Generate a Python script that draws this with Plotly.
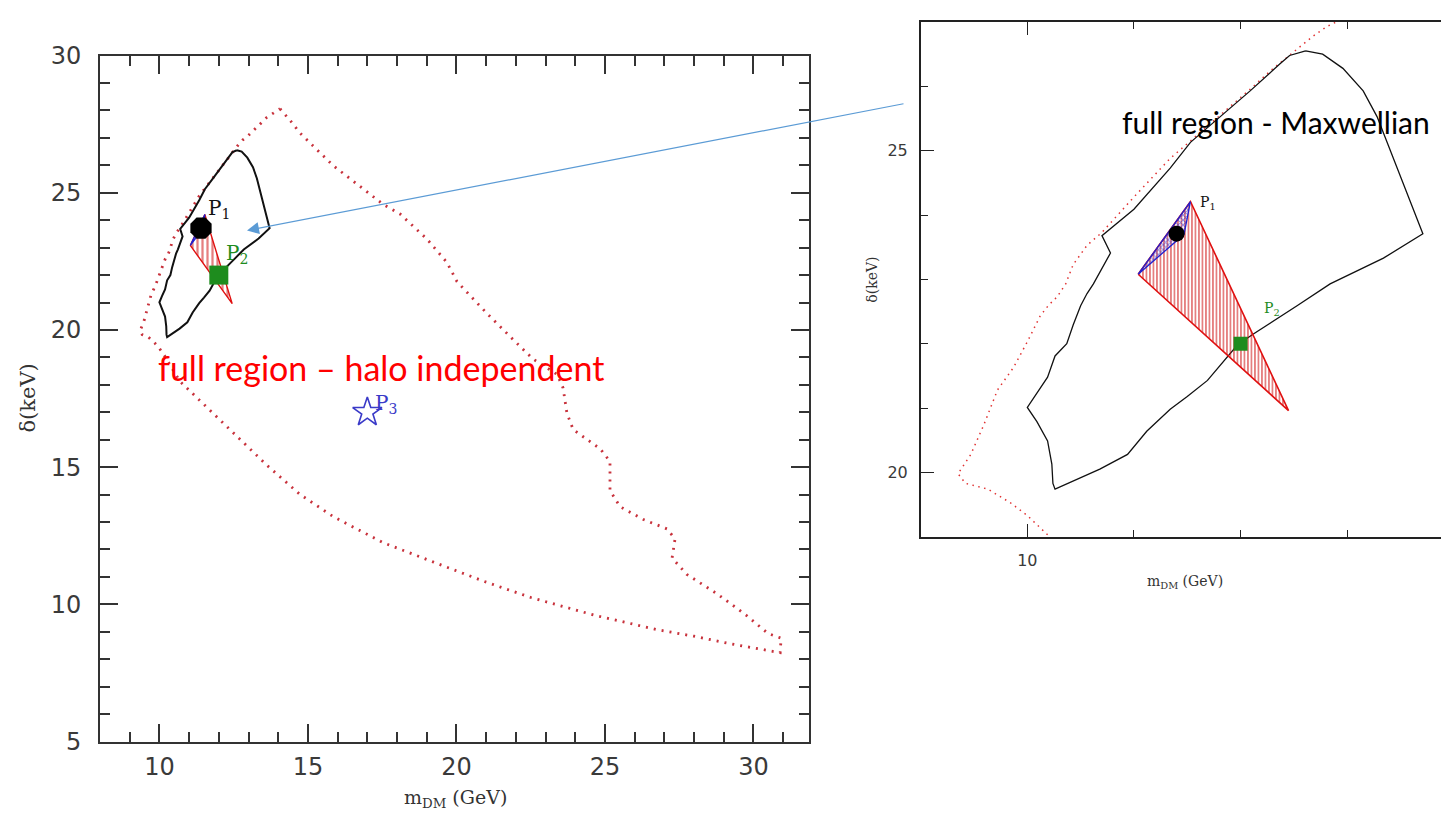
import plotly.graph_objects as go

# ---------------- data ----------------
# halo-independent region (red dotted contour), m_DM [GeV], delta [keV]
red_x = [14.06, 14.40, 14.73, 15.85, 17.53, 18.10, 19.01, 19.68, 20.02, 21.03,
         21.91, 22.58, 23.39, 23.59, 23.72, 23.93, 24.84, 25.17, 25.17, 25.51,
         26.28, 27.09, 27.36, 27.26, 27.76, 28.77, 29.75, 30.49, 30.93, 30.90,
         29.25, 28.00, 26.75, 24.63, 22.51, 20.90, 19.21, 17.53, 15.85, 14.73,
         13.62, 12.48, 11.37, 10.69, 10.19, 10.00, 9.84, 9.63, 9.42, 9.35,
         9.47, 9.59, 9.72, 9.87, 10.00, 10.12, 10.20, 10.28, 10.36, 10.43,
         10.56, 10.70, 11.00, 11.34, 11.55, 11.83, 12.10, 12.30, 12.49, 12.68,
         12.81, 12.96, 13.62, 14.06]
red_y = [28.06, 27.64, 27.18, 25.99, 24.58, 24.23, 23.31, 22.46, 21.76, 20.60,
         19.65, 18.94, 18.38, 17.89, 16.97, 16.37, 15.67, 15.21, 14.15, 13.56,
         13.10, 12.75, 12.39, 11.69, 11.09, 10.39, 9.61, 8.94, 8.77, 8.24,
         8.56, 8.84, 9.08, 9.61, 10.25, 10.85, 11.55, 12.25, 13.20, 14.01,
         15.07, 16.27, 17.43, 18.13, 19.03, 19.33, 19.53, 19.74, 19.83, 19.98,
         20.28, 20.73, 21.28, 21.63, 22.03, 22.43, 22.60, 22.73, 22.93, 23.23,
         23.53, 23.73, 24.28, 24.88, 25.18, 25.58, 25.97, 26.27, 26.53, 26.78,
         26.93, 27.05, 27.75, 28.06]

# Maxwellian region (black solid contour)
black_x = [12.61, 12.77, 12.96, 13.15, 13.28, 13.47, 13.71, 13.34, 12.84, 12.53,
           12.28, 12.12, 11.97, 11.84, 11.69, 11.50, 11.34, 11.12, 10.94, 10.68,
           10.43, 10.26, 10.24, 10.23, 10.19, 10.09, 10.00, 10.09, 10.19, 10.26,
           10.37, 10.43, 10.50, 10.56, 10.62, 10.78, 10.70, 11.00, 11.34, 11.53,
           11.81, 12.09, 12.37, 12.46, 12.61]
black_y = [26.55, 26.50, 26.28, 25.93, 25.53, 24.73, 23.71, 23.33, 22.93, 22.59,
           22.33, 22.15, 21.98, 21.73, 21.43, 21.18, 20.98, 20.64, 20.28, 20.05,
           19.86, 19.74, 19.83, 20.13, 20.49, 20.79, 21.01, 21.24, 21.48, 21.81,
           22.00, 22.29, 22.59, 22.78, 22.93, 23.41, 23.68, 24.09, 24.73, 25.13,
           25.53, 25.93, 26.35, 26.48, 26.55]

# hatched regions
red_tri_x = [11.04, 11.53, 12.45, 11.04]
red_tri_y = [23.08, 24.21, 20.96, 23.08]
blue_tri_x = [11.04, 11.53, 11.47, 11.04]
blue_tri_y = [23.08, 24.21, 23.70, 23.08]

# benchmark points
p_names = ["P1", "P2", "P3"]
p_x = [11.40, 12.00, 17.00]
p_y = [23.71, 22.00, 17.00]

# ---------------- figure ----------------
W, H = 1441, 830
fig = go.Figure()


def add_panel(xa, ya, big):
    lw_red = 2.8 if big else 1.5
    lw_blk = 2.0 if big else 1.3
    fig.add_trace(go.Scatter(
        x=red_x, y=red_y, mode="lines", xaxis=xa, yaxis=ya, hoverinfo="skip",
        line=dict(color="#c8323c" if big else "#e03232", width=lw_red,
                  dash="2px,6px" if big else "1.5px,4.5px")))
    fig.add_trace(go.Scatter(
        x=black_x, y=black_y, mode="lines", xaxis=xa, yaxis=ya, hoverinfo="skip",
        line=dict(color="#111111", width=lw_blk)))
    fig.add_trace(go.Scatter(
        x=red_tri_x, y=red_tri_y, mode="lines", fill="toself", xaxis=xa, yaxis=ya,
        hoverinfo="skip", line=dict(color="#e01010", width=1.4 if big else 1.6),
        fillcolor="rgba(255,255,255,0)",
        fillpattern=dict(shape="|", fgcolor="#cc0000", bgcolor="rgba(255,255,255,0)",
                         size=5 if big else 3.5, solidity=0.45 if big else 0.5)))
    fig.add_trace(go.Scatter(
        x=blue_tri_x, y=blue_tri_y, mode="lines", fill="toself", xaxis=xa, yaxis=ya,
        hoverinfo="skip", line=dict(color="#2020d0", width=1.3),
        fillcolor="rgba(255,255,255,0)",
        fillpattern=dict(shape="x", fgcolor="#2020d0", bgcolor="rgba(255,255,255,0)",
                         size=3.5, solidity=0.5)))
    # P1 black dot
    fig.add_trace(go.Scatter(
        x=[p_x[0]], y=[p_y[0]], mode="markers", xaxis=xa, yaxis=ya, hoverinfo="skip",
        marker=dict(symbol="octagon" if big else "circle", size=23 if big else 16,
                    color="black", line=dict(width=0))))
    # P2 green square
    fig.add_trace(go.Scatter(
        x=[p_x[1]], y=[p_y[1]], mode="markers", xaxis=xa, yaxis=ya, hoverinfo="skip",
        marker=dict(symbol="square", size=19 if big else 14,
                    color="#1e8c1e", line=dict(width=0))))
    if big:
        fig.add_trace(go.Scatter(
            x=[p_x[2]], y=[p_y[2]], mode="markers", xaxis=xa, yaxis=ya, hoverinfo="skip",
            marker=dict(symbol="star-open", size=22, color="#3a3ac8",
                        line=dict(width=1.6, color="#3a3ac8"))))


add_panel("x", "y", True)
add_panel("x2", "y2", False)

tickfont_big = dict(family="DejaVu Sans", size=24, color="#3a3a3a")
tickfont_small = dict(family="DejaVu Sans", size=16, color="#3a3a3a")

ax_common = dict(showline=True, ticks="inside", showgrid=False,
                 zeroline=False, tickmode="linear", tick0=0, dtick=5)

fig.update_layout(
    width=W, height=H, margin=dict(l=0, r=0, t=0, b=0), showlegend=False,
    paper_bgcolor="white", plot_bgcolor="white",
    xaxis=dict(**ax_common, mirror="ticks", domain=[100 / W, 809 / W], range=[8, 31.87],
               anchor="y", linecolor="#333", linewidth=2, ticklen=18, tickwidth=1.6,
               tickcolor="#333",
               minor=dict(ticks="inside", ticklen=10, dtick=1, tick0=0, tickwidth=1.6,
                          tickcolor="#333"),
               tickfont=tickfont_big, ticklabelstandoff=3),
    yaxis=dict(**ax_common, mirror="ticks", domain=[1 - 753 / H, 1 - 43 / H], range=[5, 30],
               anchor="x", linecolor="#333", linewidth=2, ticklen=18, tickwidth=1.6,
               tickcolor="#333",
               minor=dict(ticks="inside", ticklen=10, dtick=1, tick0=0, tickwidth=1.6,
                          tickcolor="#333"),
               tickfont=tickfont_big, ticklabelstandoff=12),
    xaxis2=dict(**ax_common, mirror="ticks", domain=[920.7 / W, 1.0], range=[9, 13.88],
                anchor="y2", linecolor="#222", linewidth=1.5, ticklen=13, tickwidth=1.2,
                tickcolor="#222",
                minor=dict(ticks="inside", ticklen=7, dtick=1, tick0=0, tickwidth=1.2,
                           tickcolor="#222"),
                tickfont=tickfont_small, ticklabelstandoff=8),
    yaxis2=dict(**ax_common, mirror=False, domain=[1 - 541 / H, 1 - 8.3 / H], range=[19, 27],
                anchor="x2", linecolor="#222", linewidth=1.5, ticklen=14, tickwidth=1.2,
                tickcolor="#222",
                minor=dict(ticks="inside", ticklen=8, dtick=1, tick0=0, tickwidth=1.2,
                           tickcolor="#222"),
                tickfont=tickfont_small, ticklabelstandoff=8),
)

serif = "DejaVu Serif"
ann = []
# axis titles
ann.append(dict(text="m<sub>DM</sub> (GeV)", xref="paper", yref="paper", x=455 / W, y=1 - 812 / H,
                showarrow=False, font=dict(family=serif, size=19, color="#333"),
                xanchor="center", yanchor="middle"))
ann.append(dict(text="δ(keV)", xref="paper", yref="paper", x=28 / W, y=1 - 398 / H,
                showarrow=False, textangle=-90, font=dict(family=serif, size=21, color="#333"),
                xanchor="center", yanchor="middle"))
ann.append(dict(text="m<sub>DM</sub> (GeV)", xref="paper", yref="paper", x=1185 / W, y=1 - 588 / H,
                showarrow=False, font=dict(family=serif, size=14, color="#333"),
                xanchor="center", yanchor="middle"))
ann.append(dict(text="δ(keV)", xref="paper", yref="paper", x=872 / W, y=1 - 275 / H,
                showarrow=False, textangle=-90, font=dict(family=serif, size=14, color="#333"),
                xanchor="center", yanchor="middle"))

# point labels (left panel)
lab_cols = ["#111111", "#1e8c1e", "#3a3ac8"]
lab_pos_big = [(11.57, 24.40), (12.18, 22.78), (17.19, 17.30)]
for name, (lx, ly), c in zip(p_names, lab_pos_big, lab_cols):
    ann.append(dict(text=f"{name[0]}<sub>{name[1]}</sub>", xref="x", yref="y", x=lx, y=ly,
                    showarrow=False, xanchor="left", yanchor="middle",
                    font=dict(family=serif, size=20, color=c)))
# point labels (right panel)
lab_pos_small = [(11.60, 24.19), (12.20, 22.54)]
for name, (lx, ly), c in zip(p_names[:2], lab_pos_small, lab_cols[:2]):
    ann.append(dict(text=f"{name[0]}<sub>{name[1]}</sub>", xref="x2", yref="y2", x=lx, y=ly,
                    showarrow=False, xanchor="left", yanchor="middle",
                    font=dict(family=serif, size=14, color=c)))

# slide text
ann.append(dict(text="full region – halo independent", xref="paper", yref="paper",
                x=156 / W, y=1 - 366 / H, showarrow=False, xanchor="left", yanchor="middle",
                font=dict(family="Lato", size=34, color="#ff0000")))
ann.append(dict(text="full region - Maxwellian", xref="paper", yref="paper",
                x=1120 / W, y=1 - 112 / H, showarrow=False, xanchor="left", yanchor="middle",
                font=dict(family="Lato", size=30, color="#000000")))

# arrow from the zoomed panel to the left panel
ann.append(dict(text="", xref="paper", yref="paper", x=247 / W, y=1 - 224 / H,
                ax=905 - 247, ay=97 - 224, axref="pixel", ayref="pixel",
                showarrow=True, arrowhead=2, arrowsize=2.0, arrowwidth=1.2,
                arrowcolor="#5b9bd5", standoff=0))

fig.update_layout(annotations=ann)
fig.write_html("out.html")
